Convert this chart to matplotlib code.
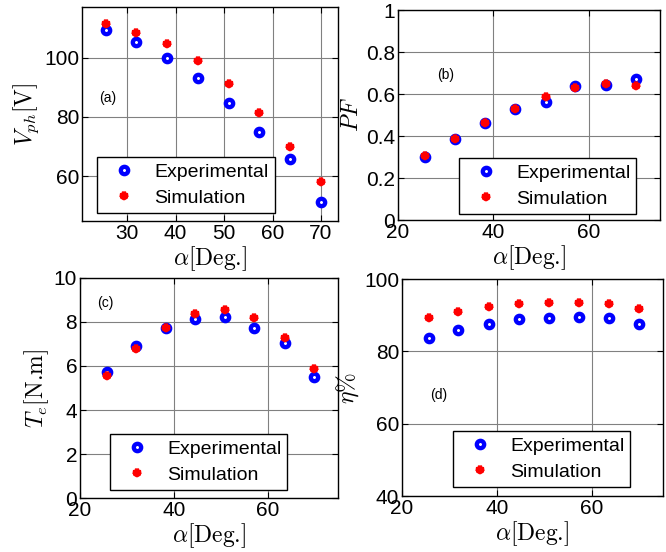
import matplotlib.pyplot as plt
import numpy as np

plt.rcParams['font.family'] = ['Liberation Sans', 'DejaVu Sans']
plt.rcParams['mathtext.fontset'] = 'cm'
plt.rcParams['axes.unicode_minus'] = False

# angulo de disparo
alpha = [25.7, 31.9, 38.3, 44.6, 51.0, 57.2, 63.6, 69.9]

# (a) tension de fase
vph_exp = [109.4, 105.2, 99.8, 93.0, 84.6, 75.1, 65.8, 51.4]
vph_sim = [111.3, 108.3, 104.6, 98.8, 91.0, 81.3, 70.0, 58.0]

# (b) factor de potencia
pf_exp = [0.298, 0.384, 0.462, 0.529, 0.560, 0.636, 0.644, 0.673]
pf_sim = [0.306, 0.386, 0.462, 0.530, 0.586, 0.627, 0.648, 0.638]

# (c) torque
te_exp = [5.73, 6.89, 7.74, 8.15, 8.21, 7.73, 7.04, 5.52]
te_sim = [5.53, 6.77, 7.73, 8.36, 8.53, 8.17, 7.27, 5.88]

# (d) rendimiento
eta_exp = [83.6, 86.0, 87.7, 88.9, 89.2, 89.5, 89.2, 87.7]
eta_sim = [89.1, 91.0, 92.2, 93.0, 93.3, 93.4, 93.0, 91.7]

fig = plt.figure(figsize=(6.66, 5.52), dpi=100)

paneles = [
    # pos, y_exp, y_sim, xlim, ylim, xticks, yticks, ylabel, letra, pos_letra, pos_leyenda
    ([0.1231, 0.5996, 0.3844, 0.3877], vph_exp, vph_sim, (20.7, 73.5), (45, 117),
     [30, 40, 50, 60, 70], [60, 80, 100], r'$V_{ph}$[V]', '(a)', (25.9, 86.3), (0.059, 0.037)),
    ([0.5976, 0.6014, 0.3934, 0.3804], pf_exp, pf_sim, (20, 75), (0, 1),
     [20, 40, 60], [0, 0.2, 0.4, 0.6, 0.8, 1], r'$PF$', '(b)', (29.9, 0.69), (0.233, 0.029)),
    ([0.1201, 0.0978, 0.3874, 0.3986], te_exp, te_sim, (20, 75), (0, 10),
     [20, 40, 60], [0, 2, 4, 6, 8, 10], r'$T_e$[N.m]', '(c)', (25.4, 8.88), (0.116, 0.036)),
    ([0.6036, 0.1014, 0.3919, 0.3931], eta_exp, eta_sim, (20, 75), (40, 100),
     [20, 40, 60], [40, 60, 80, 100], r'$\eta\%$', '(d)', (27.7, 67.9), (0.195, 0.041)),
]

for pos, yexp, ysim, xl, yl, xt, yt, ylab, letra, plet, pleg in paneles:
    ax = fig.add_axes(pos)
    ax.plot(alpha, yexp, 'o', color='blue', mfc='white', mec='blue', mew=3.1, ms=5.3,
            label='Experimental', zorder=3)
    ax.plot(alpha, ysim, '*', color='red', mec='red', mew=3.0, ms=5.5,
            label='Simulation', zorder=4)
    ax.set_xlim(xl)
    ax.set_ylim(yl)
    ax.set_xticks(xt)
    ax.set_yticks(yt)
    ax.set_yticklabels([('%g' % v) for v in yt])
    ax.grid(True, color='#808080', linewidth=0.8)
    ax.set_axisbelow(True)
    ax.tick_params(direction='in', top=True, right=True, labelsize=15, length=4, pad=2)
    for s in ax.spines.values():
        s.set_linewidth(1.0)
    ax.set_xlabel(r'$\alpha$[Deg.]', fontsize=17, labelpad=1, fontfamily='cmr10')
    ax.set_ylabel(ylab, fontsize=17, labelpad=2, fontfamily='cmr10')
    ax.text(plet[0], plet[1], letra, fontsize=10, ha='center', va='center')
    leg = ax.legend(loc='lower left', bbox_to_anchor=pleg, fontsize=14, frameon=True,
                    fancybox=False, edgecolor='black', framealpha=1, borderpad=0.3,
                    handletextpad=0.45, labelspacing=0.45, borderaxespad=0, handlelength=2.2)
    leg.get_frame().set_linewidth(1.0)

fig.savefig('out.png', dpi=100)
